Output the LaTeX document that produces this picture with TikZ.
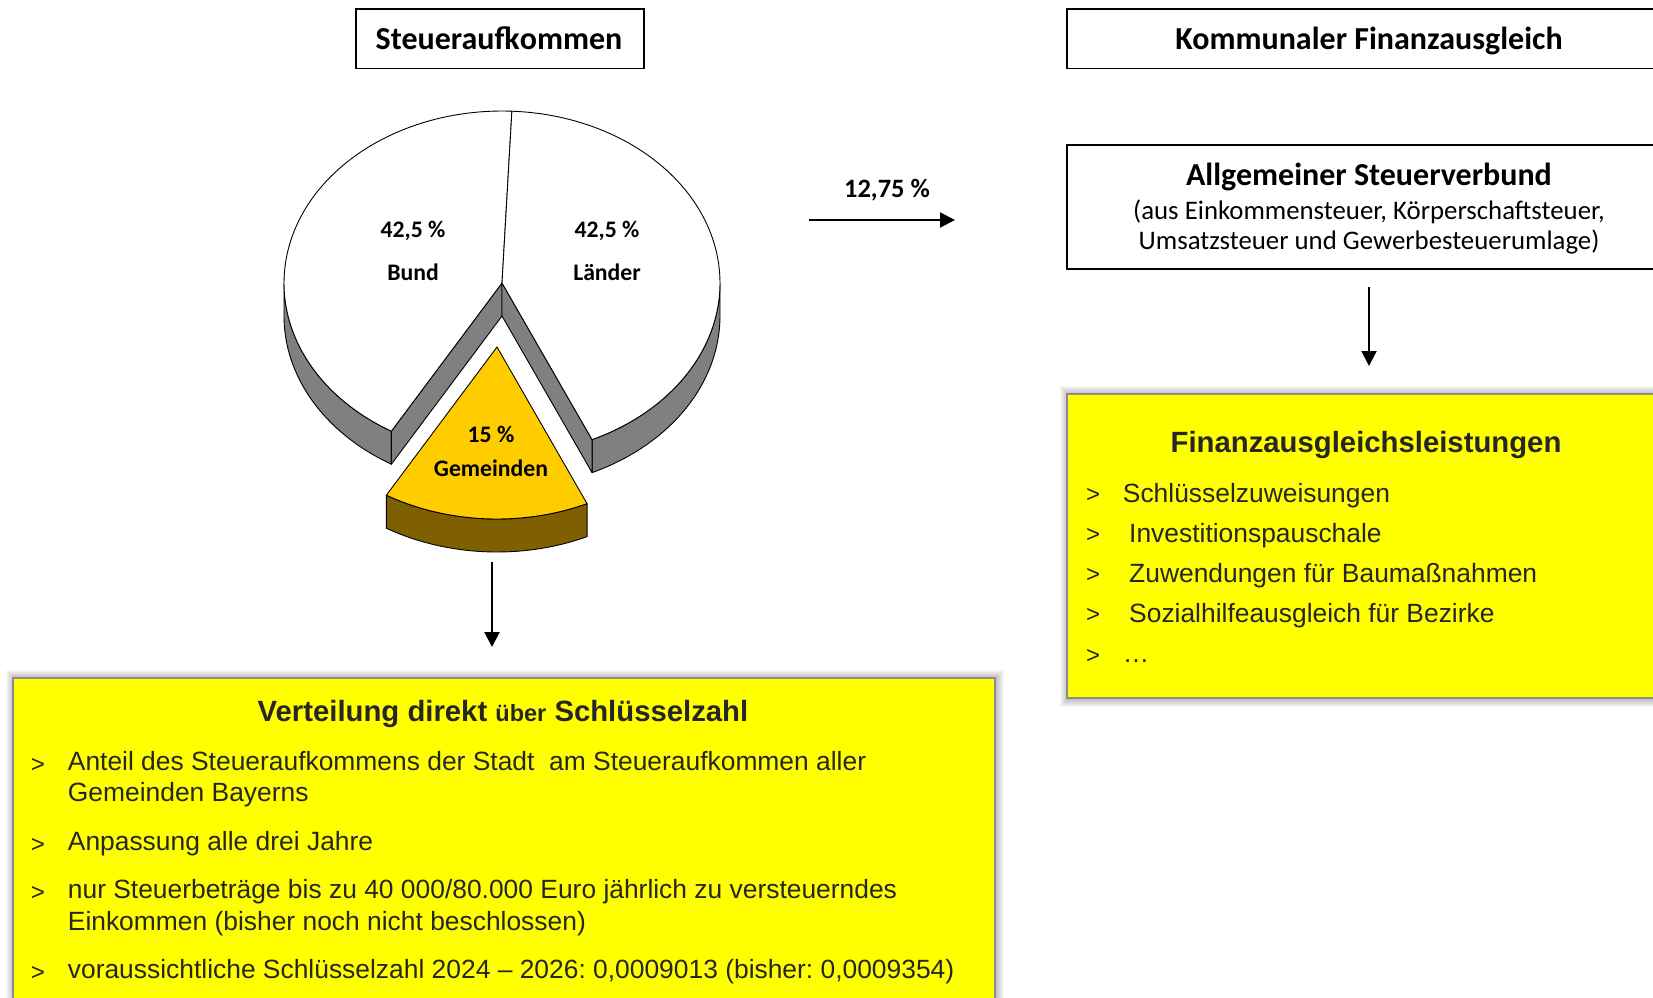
\documentclass[tikz,border=0pt]{standalone}
\usepackage{fontspec}
\setmainfont{Liberation Sans}
\newfontfamily\calib{Carlito}
\usetikzlibrary{arrows.meta}
\frenchspacing
\definecolor{pieGray}{HTML}{808080}
\definecolor{gemTop}{HTML}{FFCC00}
\definecolor{gemSide}{HTML}{7F6000}
\definecolor{boxYellow}{HTML}{FFFF00}
\definecolor{boxBorder}{HTML}{8C8C8C}
\definecolor{txtDark}{HTML}{262626}
\tikzset{
  titlebox/.style={draw=black, line width=1.6, inner sep=0, anchor=north west, minimum height=59.5},
  yellowbox/.style={draw=boxBorder, line width=2, fill=boxYellow, inner sep=0, anchor=north west},
  piepart/.style={draw=black, line width=0.9, line join=round},
  calbold/.style={inner sep=0, anchor=base, font=\calib\bfseries\fontsize{32}{38}\selectfont},
  calreg/.style={inner sep=0, anchor=base, font=\calib\fontsize{26.8}{32}\selectfont},
  pielabel/.style={inner sep=0, anchor=base, font=\calib\bfseries\fontsize{23.7}{28}\selectfont},
  itemtext/.style={inner sep=0, anchor=base west, text=txtDark, font=\fontsize{26.4}{31.7}\selectfont},
  bullet/.style={inner sep=0, anchor=base, text=txtDark, font=\fontsize{24}{28}\selectfont},
  yellowtitle/.style={inner sep=0, anchor=base, text=txtDark, font=\bfseries\fontsize{29.3}{34}\selectfont},
  arrowline/.style={line width=2, -{Triangle[length=15pt,width=15pt]}}
}
\begin{document}
\begin{tikzpicture}[x=1pt,y=-1pt]
\useasboundingbox (0,0) rectangle (1653,997);
\fill[white] (0,0) rectangle (1653,997);

% ---------- title boxes ----------
\node[titlebox, minimum width=288] (steuerBox) at (355,8.3) {};
\node[calbold] (steuerTxt) at (499,49) {Steueraufkommen};
\node[titlebox, minimum width=606] (kfaBox) at (1066,8.3) {};
\node[calbold] (kfaTxt) at (1369,49) {Kommunaler Finanzausgleich};
\node[titlebox, minimum width=606, minimum height=124.3] (verbundBox) at (1066,144) {};
\node[calbold] (verbundTxt) at (1369,185.3) {Allgemeiner Steuerverbund};
\node[calreg] (verbundL1) at (1369,219) {(aus Einkommensteuer, Körperschaftsteuer,};
\node[calreg] (verbundL2) at (1369,249) {Umsatzsteuer und Gewerbesteuerumlage)};

% ---------- pie ----------
\def\cx{502}\def\cy{283}\def\rx{218}\def\ry{172}\def\dd{33}
\def\gx{497}\def\gy{347}
% Bund rim
\filldraw[piepart, fill=pieGray]
  plot[domain=120.5:180, samples=40, variable=\t] ({\cx+\rx*cos(\t)},{\cy+\ry*sin(\t)})
  -- plot[domain=180:120.5, samples=40, variable=\t] ({\cx+\rx*cos(\t)},{\cy+\dd+\ry*sin(\t)}) -- cycle;
% Bund cut face
\filldraw[piepart, fill=pieGray] (\cx,\cy) -- (\cx,{\cy+\dd})
  -- ({\cx+\rx*cos(120.5)},{\cy+\dd+\ry*sin(120.5)})
  -- ({\cx+\rx*cos(120.5)},{\cy+\ry*sin(120.5)}) -- cycle;
% Bund top
\filldraw[piepart, fill=white] (\cx,\cy)
  -- plot[domain=120.5:272.6, samples=90, variable=\t] ({\cx+\rx*cos(\t)},{\cy+\ry*sin(\t)}) -- cycle;
% Laender rim
\filldraw[piepart, fill=pieGray]
  plot[domain=0:65.6, samples=40, variable=\t] ({\cx+\rx*cos(\t)},{\cy+\ry*sin(\t)})
  -- plot[domain=65.6:0, samples=40, variable=\t] ({\cx+\rx*cos(\t)},{\cy+\dd+\ry*sin(\t)}) -- cycle;
% Laender cut face
\filldraw[piepart, fill=pieGray] (\cx,\cy)
  -- ({\cx+\rx*cos(65.6)},{\cy+\ry*sin(65.6)})
  -- ({\cx+\rx*cos(65.6)},{\cy+\dd+\ry*sin(65.6)})
  -- (\cx,{\cy+\dd}) -- cycle;
% Laender top
\filldraw[piepart, fill=white] (\cx,\cy)
  -- plot[domain=-87.4:65.6, samples=90, variable=\t] ({\cx+\rx*cos(\t)},{\cy+\ry*sin(\t)}) -- cycle;
% Gemeinden rim
\filldraw[piepart, fill=gemSide]
  plot[domain=65.6:120.5, samples=40, variable=\t] ({\gx+\rx*cos(\t)},{\gy+\ry*sin(\t)})
  -- plot[domain=120.5:65.6, samples=40, variable=\t] ({\gx+\rx*cos(\t)},{\gy+\dd+\ry*sin(\t)}) -- cycle;
% Gemeinden top
\filldraw[piepart, fill=gemTop] (\gx,\gy)
  -- plot[domain=65.6:120.5, samples=40, variable=\t] ({\gx+\rx*cos(\t)},{\gy+\ry*sin(\t)}) -- cycle;

\node[pielabel] (bundPct) at (413,237.5) {42,5 \%};
\node[pielabel] (bundTxt) at (413,280) {Bund};
\node[pielabel] (landPct) at (607,237.5) {42,5 \%};
\node[pielabel] (landTxt) at (607,280) {Länder};
\node[pielabel] (gemPct) at (491,442.5) {15 \%};
\node[pielabel] (gemTxt) at (491,476) {Gemeinden};

% ---------- arrows ----------
\node[inner sep=0, anchor=base, font=\calib\bfseries\fontsize{26.5}{32}\selectfont] (pctTxt) at (887,197) {12,75 \%};
\coordinate (a1s) at (809,220);
\coordinate (a1e) at (955,220);
\coordinate (a2s) at (1369,287);
\coordinate (a2e) at (1369,366);
\coordinate (a3s) at (492,562);
\coordinate (a3e) at (492,647);
\draw[arrowline] (a1s) -- (a1e);
\draw[arrowline] (a2s) -- (a2e);
\draw[arrowline] (a3s) -- (a3e);

% ---------- yellow boxes with soft shadow ----------
\foreach \k in {1,...,8}{
  \fill[black, opacity=0.03] ({11.7-\k+2},{676.7-\k+1}) rectangle ({994.3+\k+2},{1020+\k});
  \fill[black, opacity=0.03] ({1066-\k+2},{393.3-\k+1}) rectangle ({1680+\k},{696.7+\k+2});
}
\node[yellowbox, minimum width=982.6, minimum height=340] (verteilBox) at (11.7,676.7) {};
\node[yellowbox, minimum width=606, minimum height=303.4] (leistBox) at (1066,393.3) {};

% right yellow box
\node[yellowtitle] (leistTitle) at (1366,452) {Finanzausgleichsleistungen};
\node[bullet] (rb1) at (1093,502) {>};
\node[bullet] (rb2) at (1093,542) {>};
\node[bullet] (rb3) at (1093,582) {>};
\node[bullet] (rb4) at (1093,622) {>};
\node[bullet] (rb5) at (1093,663) {>};
\node[itemtext] (r1) at (1122.7,502) {Schlüsselzuweisungen};
\node[itemtext] (r2) at (1129,542) {Investitionspauschale};
\node[itemtext] (r3) at (1129,582) {Zuwendungen für Baumaßnahmen};
\node[itemtext] (r4) at (1129,622) {Sozialhilfeausgleich für Bezirke};
\node[itemtext] (r5) at (1122.7,662) {…};

% bottom yellow box
\node[yellowtitle] (verteilTitle) at (503,721.7) {Verteilung direkt {\fontsize{23.5}{28}\selectfont über} Schlüsselzahl};
\node[bullet] (bb1) at (38,772) {>};
\node[bullet] (bb2) at (38,852) {>};
\node[bullet] (bb3) at (38,900) {>};
\node[bullet] (bb4) at (38,980) {>};
\node[itemtext] (b1a) at (67.7,770) {Anteil des Steueraufkommens der Stadt\ \ am Steueraufkommen aller};
\node[itemtext] (b1b) at (67.7,801.7) {Gemeinden Bayerns};
\node[itemtext] (b2) at (67.7,850.7) {Anpassung alle drei Jahre};
\node[itemtext] (b3a) at (67.7,898.3) {nur Steuerbeträge bis zu 40 000/80.000 Euro jährlich zu versteuerndes};
\node[itemtext] (b3b) at (67.7,930) {Einkommen (bisher noch nicht beschlossen)};
\node[itemtext] (b4) at (67.7,978.3) {voraussichtliche Schlüsselzahl 2024 – 2026: 0,0009013 (bisher: 0,0009354)};
\end{tikzpicture}
\end{document}
